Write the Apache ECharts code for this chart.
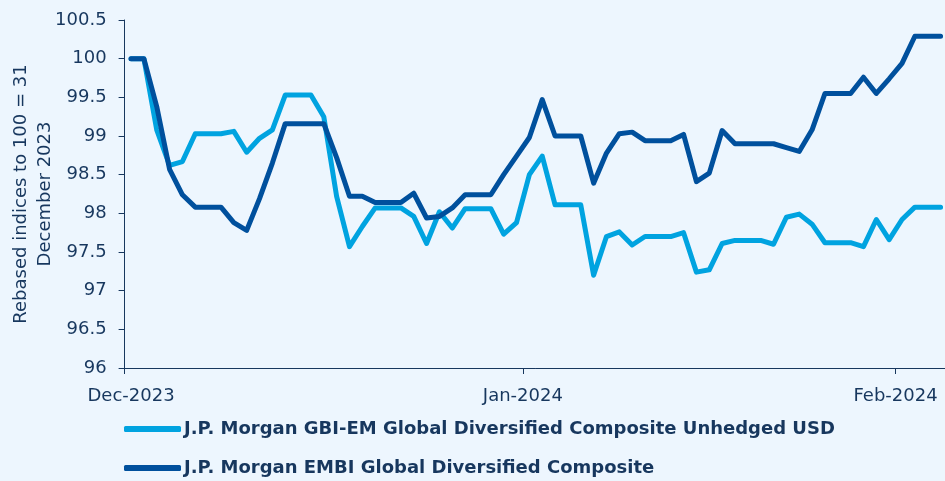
<!DOCTYPE html>
<html>
<head>
<meta charset="utf-8">
<script src="https://cdn.jsdelivr.net/npm/echarts@6/dist/echarts.min.js"></script>
<style>
html,body{margin:0;padding:0;background:#EDF6FE;}
#chart{width:945px;height:481px;}
</style>
</head>
<body>
<div id="chart"></div>
<script>
// Daily dates (category axis)
const dates = [
 '2023-12-31',
 '2024-01-01','2024-01-02','2024-01-03','2024-01-04','2024-01-05','2024-01-06','2024-01-07',
 '2024-01-08','2024-01-09','2024-01-10','2024-01-11','2024-01-12','2024-01-13','2024-01-14',
 '2024-01-15','2024-01-16','2024-01-17','2024-01-18','2024-01-19','2024-01-20','2024-01-21',
 '2024-01-22','2024-01-23','2024-01-24','2024-01-25','2024-01-26','2024-01-27','2024-01-28',
 '2024-01-29','2024-01-30','2024-01-31',
 '2024-02-01','2024-02-02','2024-02-03','2024-02-04','2024-02-05','2024-02-06','2024-02-07',
 '2024-02-08','2024-02-09','2024-02-10','2024-02-11','2024-02-12','2024-02-13','2024-02-14',
 '2024-02-15','2024-02-16','2024-02-17','2024-02-18','2024-02-19','2024-02-20','2024-02-21',
 '2024-02-22','2024-02-23','2024-02-24','2024-02-25','2024-02-26','2024-02-27','2024-02-28',
 '2024-02-29',
 '2024-03-01','2024-03-02','2024-03-03'
];

// Month tick labels shown on the x axis
const tickLabels = {
  '2023-12-31': 'Dec-2023',
  '2024-01-31': 'Jan-2024',
  '2024-02-29': 'Feb-2024'
};

const seriesNames = [
  'J.P. Morgan GBI-EM Global Diversified Composite Unhedged USD',
  'J.P. Morgan EMBI Global Diversified Composite'
];

const gbiEm = [
 100, 100, 99.08, 98.62, 98.67, 99.03, 99.03, 99.03, 99.06, 98.79,
 98.97, 99.08, 99.53, 99.53, 99.53, 99.25, 98.22, 97.57, 97.83, 98.07,
 98.07, 98.07, 97.96, 97.61, 98.02, 97.81, 98.06, 98.06, 98.06, 97.73,
 97.88, 98.50, 98.74, 98.11, 98.11, 98.11, 97.20, 97.70, 97.76, 97.59,
 97.70, 97.70, 97.70, 97.75, 97.24, 97.27, 97.61, 97.65, 97.65, 97.65,
 97.60, 97.95, 97.99, 97.86, 97.62, 97.62, 97.62, 97.57, 97.92, 97.66,
 97.92, 98.08, 98.08, 98.08
];

const embi = [
 100, 100, 99.38, 98.57, 98.24, 98.08, 98.08, 98.08, 97.88, 97.78,
 98.19, 98.65, 99.16, 99.16, 99.16, 99.16, 98.72, 98.22, 98.22, 98.14,
 98.14, 98.14, 98.26, 97.94, 97.96, 98.07, 98.24, 98.24, 98.24, 98.50,
 98.74, 98.98, 99.47, 99.00, 99.00, 99.00, 98.39, 98.78, 99.03, 99.05,
 98.94, 98.94, 98.94, 99.02, 98.41, 98.52, 99.07, 98.90, 98.90, 98.90,
 98.90, 98.85, 98.80, 99.08, 99.55, 99.55, 99.55, 99.76, 99.55, 99.74,
 99.94, 100.29, 100.29, 100.29
];

const yAxisName = 'Rebased indices to 100 = 31\nDecember 2023';

const textColor = '#17375E';
const lightBlue = '#00A3E0';
const darkBlue = '#00509D';
const fontFam = '"DejaVu Sans", sans-serif';

const chart = echarts.init(document.getElementById('chart'));
chart.setOption({
  backgroundColor: '#EDF6FE',
  animation: false,
  grid: { left: 124.6, right: -2, top: 20, bottom: 113, containLabel: false, outerBoundsMode: 'none' },
  legend: [
    {
      data: [seriesNames[0]],
      left: 119, top: 415, orient: 'horizontal',
      icon: 'roundRect', itemWidth: 57, itemHeight: 6, itemGap: 0,
      textStyle: { color: textColor, fontFamily: fontFam, fontWeight: 'bold', fontSize: 18, padding: [0,0,0,-2] }
    },
    {
      data: [seriesNames[1]],
      left: 119, top: 454, orient: 'horizontal',
      icon: 'roundRect', itemWidth: 57, itemHeight: 6, itemGap: 0,
      textStyle: { color: textColor, fontFamily: fontFam, fontWeight: 'bold', fontSize: 18, padding: [0,0,0,-2] }
    }
  ],
  xAxis: {
    type: 'category',
    data: dates,
    boundaryGap: true,
    axisLine: { show: true, lineStyle: { color: textColor, width: 1 } },
    axisTick: {
      show: true, length: 6, lineStyle: { color: textColor },
      interval: function (i, v) { return tickLabels[v] !== undefined; }
    },
    axisLabel: {
      interval: function (i, v) { return tickLabels[v] !== undefined; },
      formatter: function (v) {
        return v === dates[0] ? tickLabels[v] : '{s|' + tickLabels[v] + '}';
      },
      rich: { s: { padding: [0, 13, 0, 0], fontFamily: fontFam, fontSize: 18, color: textColor } },
      color: textColor, fontFamily: fontFam, fontSize: 18, margin: 19
    },
    splitLine: { show: false }
  },
  yAxis: {
    type: 'value',
    min: 96, max: 100.5, interval: 0.5,
    name: yAxisName,
    nameLocation: 'middle',
    nameGap: 67,
    nameRotate: 90,
    nameMoveOverlap: false,
    nameTextStyle: { color: textColor, fontFamily: fontFam, fontSize: 18, lineHeight: 24, align: 'center' },
    axisLine: { show: true, lineStyle: { color: textColor, width: 1 } },
    axisTick: { show: true, length: 6, lineStyle: { color: textColor } },
    axisLabel: { color: textColor, fontFamily: fontFam, fontSize: 18, margin: 18 },
    splitLine: { show: false }
  },
  series: [
    {
      name: seriesNames[0], type: 'line', data: gbiEm,
      showSymbol: false, symbol: 'none',
      lineStyle: { color: lightBlue, width: 5, cap: 'round', join: 'round' },
      itemStyle: { color: lightBlue }
    },
    {
      name: seriesNames[1], type: 'line', data: embi,
      showSymbol: false, symbol: 'none',
      lineStyle: { color: darkBlue, width: 5, cap: 'round', join: 'round' },
      itemStyle: { color: darkBlue }
    }
  ]
});
</script>
</body>
</html>
